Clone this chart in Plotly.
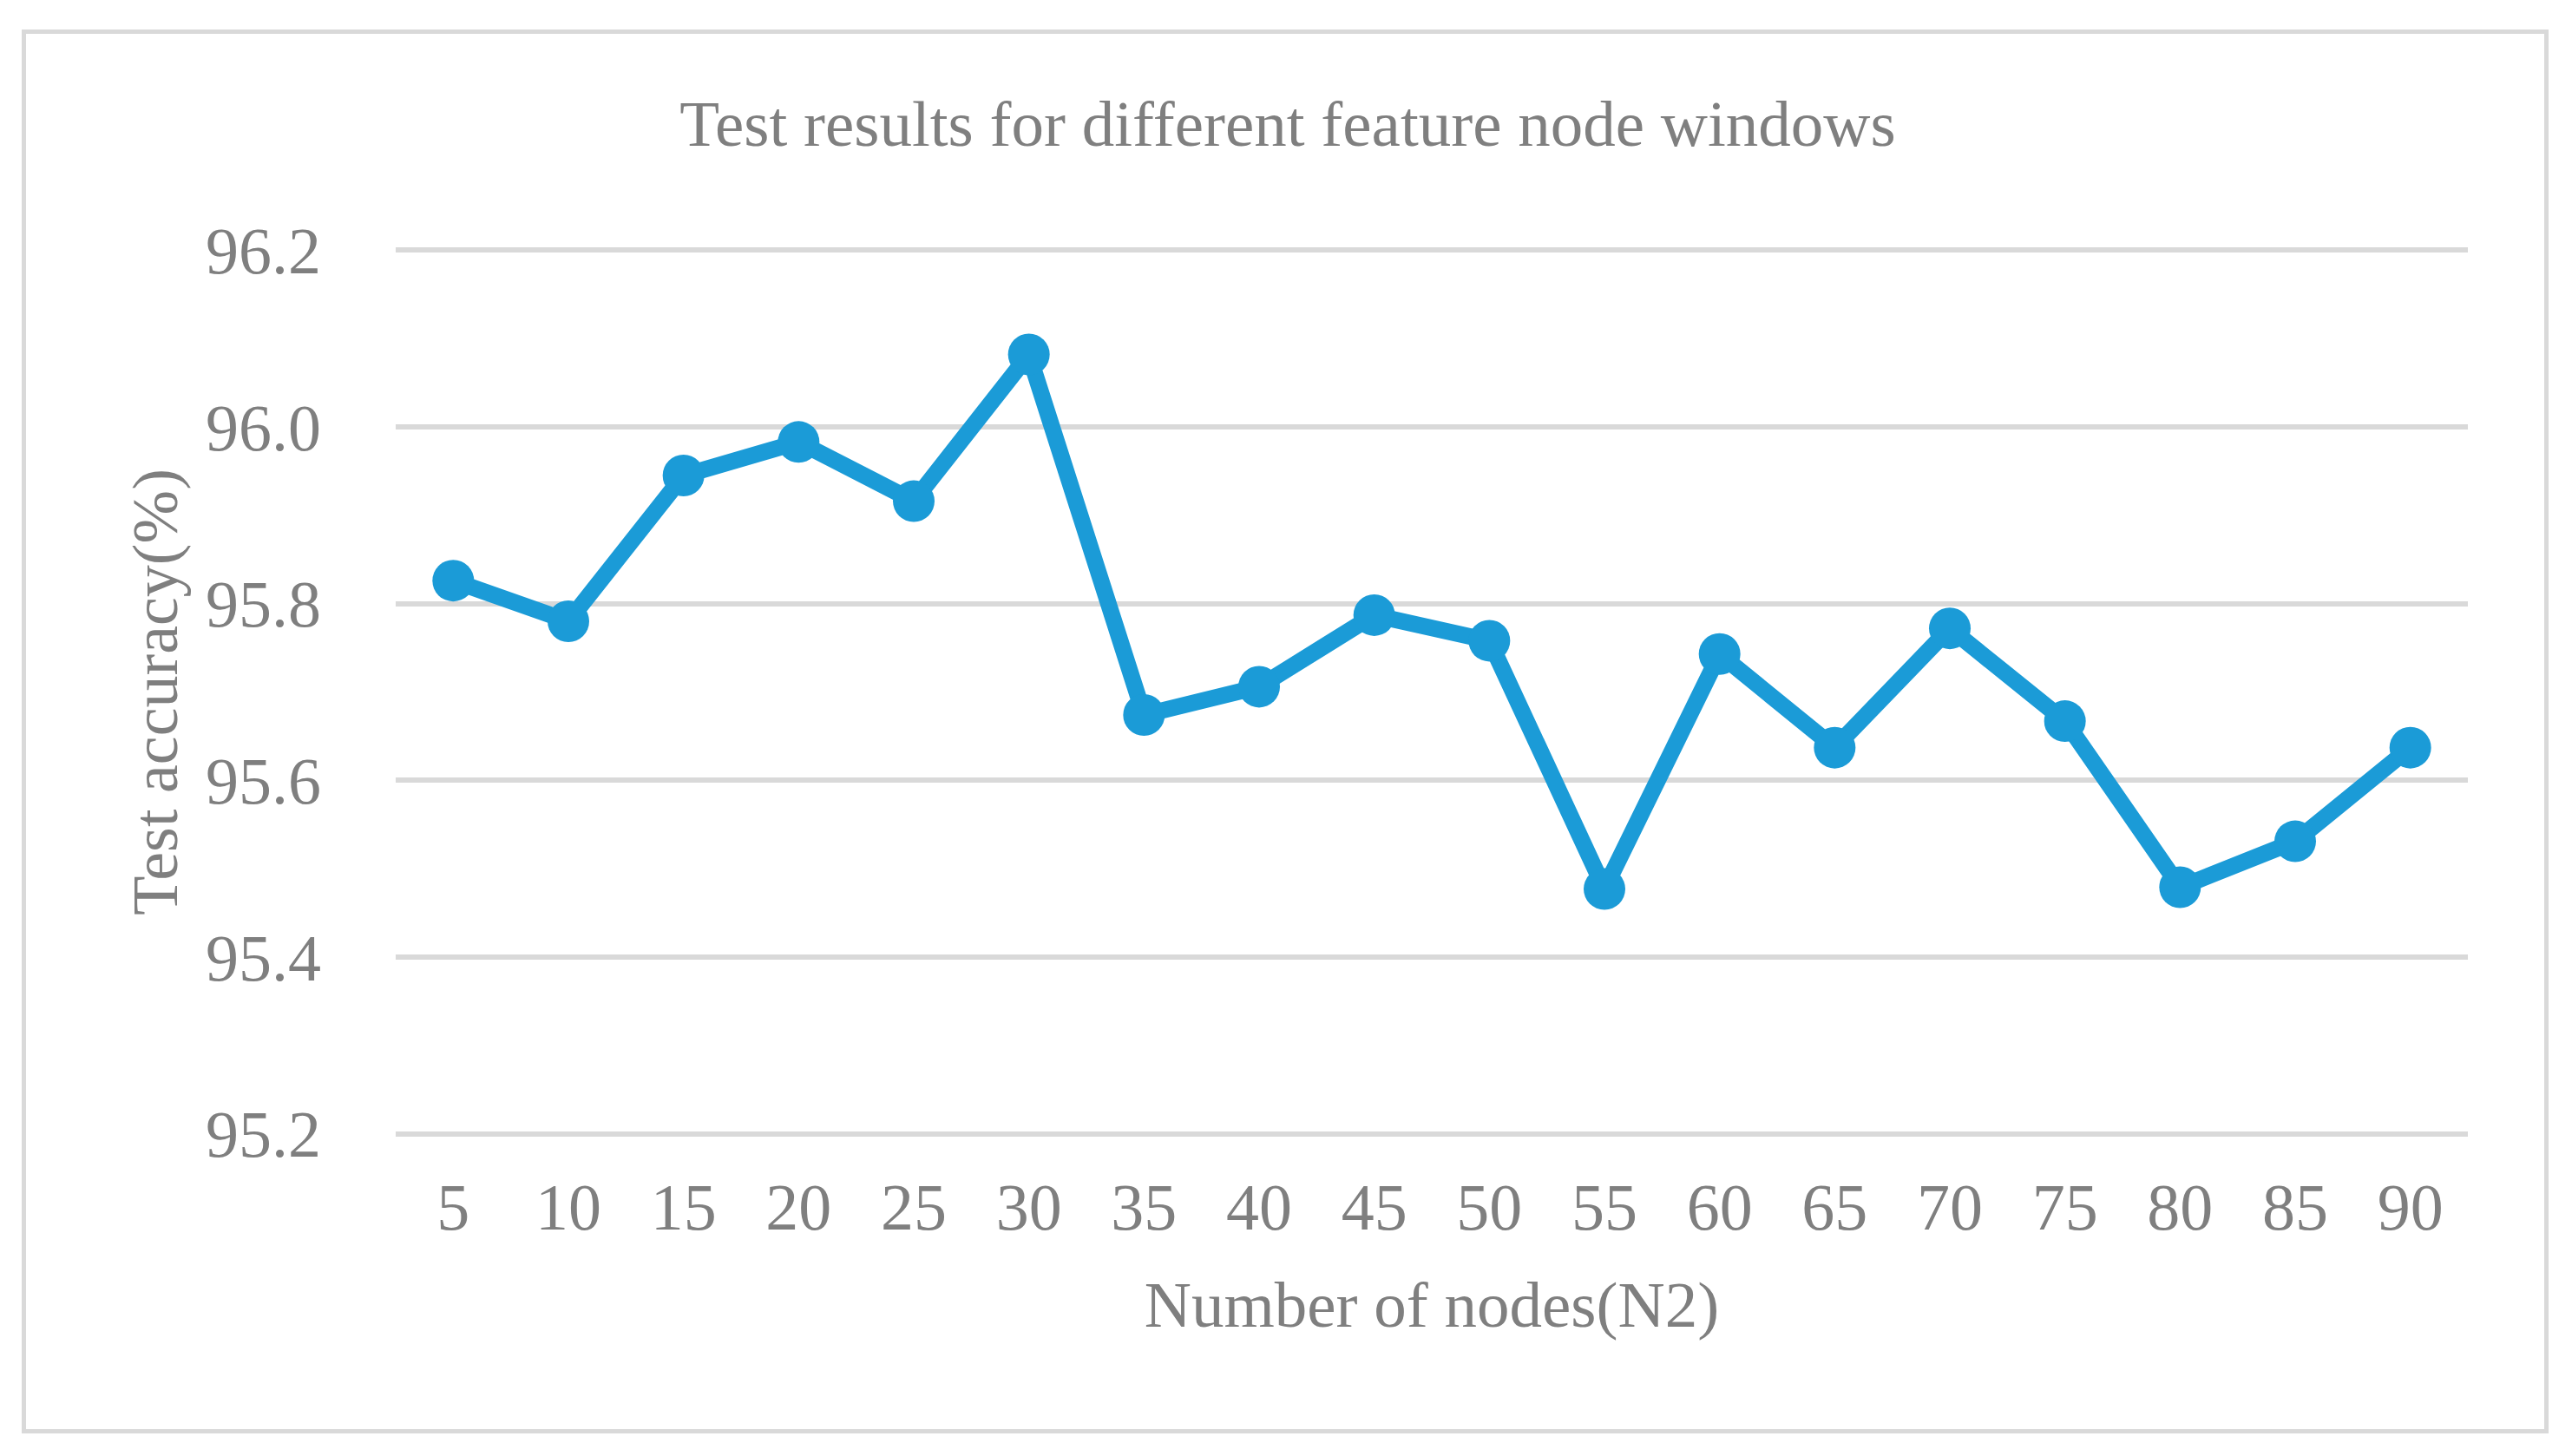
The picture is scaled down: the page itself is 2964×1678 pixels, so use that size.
import plotly.graph_objects as go

nodes = ["5", "10", "15", "20", "25", "30", "35", "40", "45", "50",
         "55", "60", "65", "70", "75", "80", "85", "90"]
accuracy = [95.826, 95.780, 95.945, 95.983, 95.916, 96.082, 95.674, 95.706,
            95.787, 95.758, 95.477, 95.743, 95.637, 95.772, 95.667, 95.479,
            95.531, 95.637]
y_ticks = [95.2, 95.4, 95.6, 95.8, 96.0, 96.2]
y_tick_labels = ["95.2", "95.4", "95.6", "95.8", "96.0", "96.2"]

W, H = 2964, 1678
OFF = 8  # default body margin of the html page
L = 456 - OFF
R = W - (2844 - OFF)
T = 268.35 - OFF
B = H - (1326.65 - OFF)
pw, ph = W - L - R, H - T - B

FONT = "Liberation Serif, Times New Roman, serif"
GREY = "#7f7f7f"
BLUE = "#1b9bd7"

fig = go.Figure()
fig.add_trace(go.Scatter(
    x=nodes, y=accuracy, mode="lines+markers",
    line=dict(color=BLUE, width=19),
    marker=dict(color=BLUE, size=48),
    showlegend=False,
))


def px_x(p):
    return (p - OFF - L) / pw


def px_y(p):
    return (H - B - (p - OFF)) / ph


fig.add_shape(type="rect", xref="paper", yref="paper",
              x0=px_x(27.5), x1=px_x(2934.5), y0=px_y(1649), y1=px_y(37),
              line=dict(color="#d9d9d9", width=5), fillcolor="rgba(0,0,0,0)",
              layer="below")

fig.update_layout(
    template="none",
    width=W, height=H,
    margin=dict(l=L, r=R, t=T, b=B, pad=0, autoexpand=False),
    paper_bgcolor="white", plot_bgcolor="white",
    font=dict(family=FONT, color=GREY, size=76),
    title=dict(text="Test results for different feature node windows",
               x=(1484 - OFF) / W, xref="container", xanchor="center",
               y=1 - (142 - OFF) / H, yref="container", yanchor="middle",
               font=dict(family=FONT, color=GREY, size=75)),
    xaxis=dict(
        type="category", range=[-0.5, 17.5], automargin=False,
        showgrid=False, showline=False, zeroline=False, ticks="",
        tickfont=dict(family=FONT, color=GREY, size=76),
        ticklabelstandoff=13,
        title=dict(text="Number of nodes(N2)",
                   font=dict(family=FONT, color=GREY, size=75), standoff=44),
    ),
    yaxis=dict(
        range=[95.18, 96.22], automargin=False,
        tickvals=y_ticks, ticktext=y_tick_labels,
        showgrid=True, gridcolor="#d9d9d9", gridwidth=6,
        showline=False, zeroline=False, ticks="",
        tickfont=dict(family=FONT, color=GREY, size=76),
        ticklabelstandoff=85,
        title=dict(text="Test accuracy(%)",
                   font=dict(family=FONT, color=GREY, size=74), standoff=8),
    ),
)

fig.write_html("out.html")
